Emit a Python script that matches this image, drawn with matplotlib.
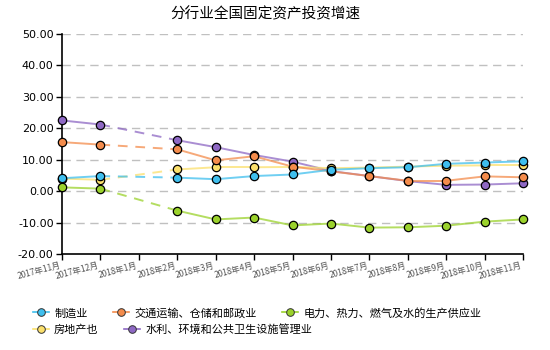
import matplotlib
matplotlib.use("Agg")
import matplotlib.pyplot as plt
from matplotlib.lines import Line2D

plt.rcParams["font.family"] = ["Noto Sans CJK SC", "DejaVu Sans"]

months = ["2017年11月", "2017年12月", "2018年1月", "2018年2月", "2018年3月",
          "2018年4月", "2018年5月", "2018年6月", "2018年7月", "2018年8月",
          "2018年9月", "2018年10月", "2018年11月"]

# None = no release for that month (January)
manufacturing = [4.1, 4.8, None, 4.3, 3.8, 4.8, 5.3, 6.8, 7.3, 7.6, 8.7, 9.1, 9.5]
transport = [15.6, 14.8, None, 13.3, 9.8, 11.1, 7.8, 6.3, 4.8, 3.3, 3.3, 4.7, 4.4]
utilities = [1.2, 0.8, None, -6.2, -9.0, -8.4, -10.9, -10.3, -11.6, -11.5, -11.0, -9.7, -9.0]
real_estate = [4.0, 3.6, None, 6.9, 7.6, 7.6, 7.7, 7.3, 7.5, 7.8, 8.1, 8.2, 8.2]
water_env = [22.5, 21.2, None, 16.2, 14.0, 11.5, 9.4, 6.4, 4.8, 3.2, 2.0, 2.1, 2.5]

names = ["制造业", "交通运输、仓储和邮政业", "电力、热力、燃气及水的生产供应业",
         "房地产也", "水利、环境和公共卫生设施管理业"]
series = [manufacturing, transport, utilities, real_estate, water_env]
colors = ["#3fbfee", "#f48c4c", "#9bd22c", "#fbe06c", "#8e68c4"]

fig = plt.figure(figsize=(5.5, 3.5), dpi=100)
ax = fig.add_axes([62 / 550, 1 - 254 / 350, (523 - 62) / 550, (254 - 34) / 350])

handles = []
for i, (vals, color, name) in enumerate(zip(series, colors, names)):
    z = 10 - i * 1.5
    pts = [(x, v) for x, v in enumerate(vals) if v is not None]
    # solid between consecutive months, dashed across a gap
    for (x0, y0), (x1, y1) in zip(pts[:-1], pts[1:]):
        ls = "-" if x1 - x0 == 1 else (0, (5, 4))
        ax.plot([x0, x1], [y0, y1], color=color, lw=1.4, ls=ls, alpha=0.75,
                zorder=z, clip_on=False)
    xs = [p[0] for p in pts]
    ys = [p[1] for p in pts]
    ax.plot(xs, ys, ls="none", marker="o", ms=6, mfc=color, mec="black",
            mew=0.9, zorder=z + 0.5, clip_on=False)
    handles.append(Line2D([0], [0], color=color, lw=1.2, marker="o", ms=5.5,
                          mfc=color, mec="#333333", mew=0.7, label=name))

ax.set_xlim(0, 12)
ax.set_ylim(-20, 50)
ax.set_xticks(range(len(months)))
ax.set_xticklabels(months, rotation=15, ha="right", fontsize=6, color="#555555")
ax.set_yticks(range(-20, 51, 10))
ax.set_yticklabels([f"{v:.2f}" for v in range(-20, 51, 10)],
                   fontsize=8, family="DejaVu Sans")
ax.tick_params(axis="both", direction="out", length=4, width=1, pad=2)
ax.tick_params(axis="x", pad=1)

for v in range(-10, 51, 10):
    ax.axhline(v, color="#c0c0c0", lw=1, ls=(0, (6, 4)), zorder=0)

for side in ("top", "right"):
    ax.spines[side].set_visible(False)
for side in ("left", "bottom"):
    ax.spines[side].set_linewidth(1.2)

fig.text(0.482, 1 - 14 / 350, "分行业全国固定资产投资增速", ha="center", va="center",
         fontsize=10.5)

common = dict(frameon=False, fontsize=8, handlelength=1.4, handletextpad=0.5,
              columnspacing=2.3, borderpad=0, borderaxespad=0, loc="center left")
fig.legend(handles=handles[:3], ncol=3, bbox_to_anchor=(33 / 550, 1 - 313 / 350), **common)
fig.legend(handles=handles[3:], ncol=2, bbox_to_anchor=(33 / 550, 1 - 329 / 350), **common)

fig.savefig("out.png", dpi=100)
